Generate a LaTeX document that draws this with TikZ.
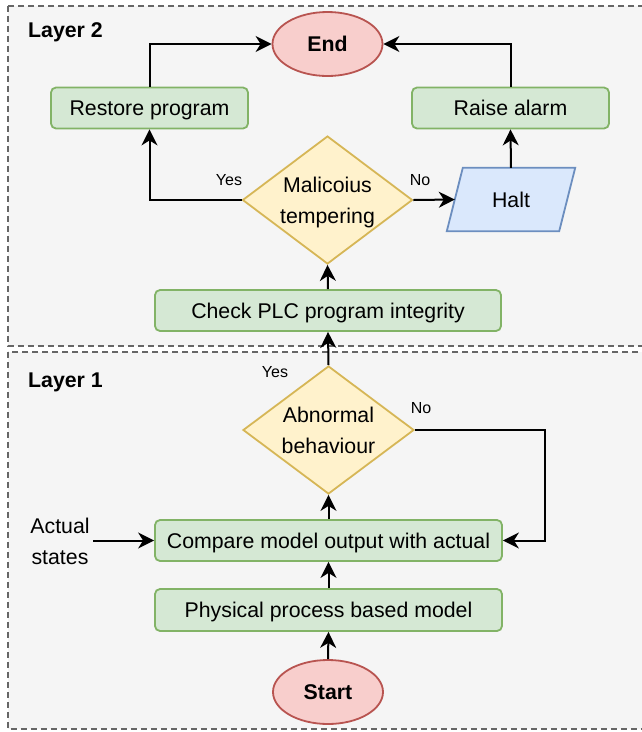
\documentclass[tikz,border=0pt]{standalone}
\usepackage{fontspec}
\setmainfont{Liberation Sans}
\usetikzlibrary{arrows.meta,shapes.geometric}

\definecolor{layerfill}{HTML}{F5F5F5}
\definecolor{layerline}{HTML}{666666}
\definecolor{procfill}{HTML}{D5E8D4}
\definecolor{procline}{HTML}{82B366}
\definecolor{decfill}{HTML}{FFF2CC}
\definecolor{decline}{HTML}{D6B656}
\definecolor{termfill}{HTML}{F8CECC}
\definecolor{termline}{HTML}{B85450}
\definecolor{iofill}{HTML}{DAE8FC}
\definecolor{ioline}{HTML}{6C8EBF}

\tikzset{
  base/.style={font=\fontsize{21.3}{31}\selectfont, inner sep=0pt, align=center,
    text height=15.3pt, text depth=0pt},
  twolines/.style={text height=46.3pt, text depth=0pt},
  layer/.style={draw=layerline, fill=layerfill, line width=1.4pt, dash pattern=on 6pt off 4pt},
  layerlabel/.style={font=\fontsize{21.3}{24}\selectfont\bfseries, anchor=west, inner sep=0pt},
  procbox/.style={base, draw=procline, fill=procfill, line width=1.8pt, rounded corners=5pt,
    minimum height=41pt},
  decision/.style={base, twolines, shape=diamond, draw=decline, fill=decfill, line width=1.8pt,
    aspect=1.33, minimum width=170pt, minimum height=128pt},
  terminal/.style={base, shape=ellipse, draw=termline, fill=termfill, line width=1.8pt,
    minimum width=110pt, minimum height=64pt, font=\fontsize{21.3}{24}\selectfont\bfseries},
  iobox/.style={draw=ioline, fill=iofill, line width=1.8pt, line join=miter},
  answer/.style={font=\fontsize{16}{18}\selectfont, inner sep=0pt},
  arr/.style={line width=2pt, -{Stealth[length=16pt, width=16pt, inset=5pt]}},
}

\begin{document}
\begin{tikzpicture}[x=1pt, y=-1pt]
  \useasboundingbox (0,0) rectangle (642,732);

  % the two layer containers
  \draw[layer] (8,6) rectangle (646,346);
  \draw[layer] (8,352) rectangle (646,729);
  \node[layerlabel] (lay2) at (28,32) {Layer 2};
  \node[layerlabel] (lay1) at (28,382) {Layer 1};

  % layer 2
  \node[terminal] (end) at (327.5,44) {End};
  \node[procbox, minimum width=197pt] (restore) at (149.5,108) {Restore program};
  \node[procbox, minimum width=197pt] (alarm) at (510.5,108) {Raise alarm};
  \node[decision] (mal) at (327.5,200) {Malicoius\\tempering};
  \node[base, minimum width=112pt, minimum height=63pt] (halt) at (511,199.5) {};
  \draw[iobox] ([xshift=-8pt]halt.south west) -- ([xshift=-8pt]halt.south east)
    -- ([xshift=8pt]halt.north east) -- ([xshift=8pt]halt.north west) -- cycle;
  \node[base] (halttext) at (halt.center) {Halt};
  \node[procbox, minimum width=346pt] (check) at (328,310.5) {Check PLC program integrity};

  % layer 1
  \node[decision, minimum width=171pt] (abn) at (328.5,430) {Abnormal\\behaviour};
  \node[procbox, minimum width=347pt] (cmp) at (328.5,540.5) {Compare model output with actual};
  \node[procbox, minimum width=347pt, minimum height=42pt] (phys) at (328.5,610) {Physical process based model};
  \node[terminal] (start) at (328,692) {Start};
  \node[base, twolines, minimum width=66pt] (actual) at (60,541.5) {Actual\\states};

  % connectors
  \draw[arr] (restore.north) |- (end.west);
  \draw[arr] (alarm.north) |- (end.east);
  \draw[arr] (mal.west) -| (restore.south);
  \draw[arr] (mal.east) -- (halt.west);
  \draw[arr] (halt.north) -- (alarm.south);
  \draw[arr] (check.north) -- (mal.south);
  \draw[arr] (abn.north) -- (check.south);
  \coordinate (noturn) at (545,430);
  \draw[arr] (abn.east) -- (noturn) |- (cmp.east);
  \draw[arr] (cmp.north) -- (abn.south);
  \draw[arr] (phys.north) -- (cmp.south);
  \draw[arr] (start.north) -- (phys.south);
  \draw[arr] (actual.east |- cmp.west) -- (cmp.west);

  % branch labels
  \node[answer] (yes2) at (229,180) {Yes};
  \node[answer] (no2) at (420,180) {No};
  \node[answer] (yes1) at (275,372) {Yes};
  \node[answer] (no1) at (421,408) {No};
\end{tikzpicture}
\end{document}
